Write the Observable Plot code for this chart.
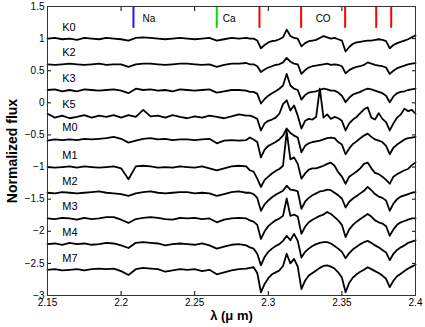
<!DOCTYPE html>
<html><head><meta charset="utf-8">
<script src="https://cdn.jsdelivr.net/npm/d3@7"></script>
<script src="https://cdn.jsdelivr.net/npm/@observablehq/plot@0.6"></script>
<style>body{margin:0;background:#fff}</style>
</head><body><div id="chart"></div>
<script>
// wavelength grid (µm)
const wavelength = [2.150,2.155,2.160,2.165,2.170,2.175,2.180,2.185,2.190,2.195,2.200,2.205,2.210,2.215,2.220,2.225,2.230,2.235,2.240,2.245,2.250,2.255,2.260,2.265,2.270,2.275,2.280,2.285,
 2.2875,2.290,2.2925,2.295,2.2975,2.300,2.3025,2.305,2.3075,2.310,2.3125,2.315,2.3175,2.320,2.3225,2.325,2.3275,2.330,2.3325,2.335,2.3375,2.340,2.3425,2.345,2.3475,2.350,2.3525,2.355,2.3575,2.360,2.3625,2.365,2.3675,2.370,2.3725,2.375,2.3775,2.380,2.3825,2.385,2.3875,2.390,2.3925,2.395,2.3975,2.400];

const stars = ["K0","K2","K3","K5","M0","M1","M2","M3","M4","M7"];
const offsets = [1, 0.6, 0.2, -0.2, -0.57, -1, -1.4, -1.8, -2.2, -2.6];

// flux relative to each star's offset
const fluxK0 = [0,.01,-.01,0,-.02,.01,0,-.01,.01,0,-.01,-.03,.01,.02,.01,0,-.01,0,.01,0,-.01,0,.01,-.03,-.01,.01,0,.01,
 0,0,-.03,-.15,-.10,-.06,-.04,-.03,-.01,.02,.14,.04,.01,0,-.12,-.07,-.04,-.03,-.02,.01,.04,.02,0,.01,-.01,-.03,-.20,-.13,-.08,-.06,-.05,-.04,-.03,-.03,-.02,-.01,-.02,-.04,-.15,-.10,-.07,-.05,-.03,-.01,.02,.05];
const fluxK2 = [0,-.01,0,.01,0,-.01,0,.01,-.01,0,0,-.04,0,.01,.01,0,-.01,0,.01,.01,0,-.01,0,-.04,-.01,.01,.01,.02,
 0,0,-.03,-.12,-.08,-.05,-.03,-.01,0,.03,.10,.04,.01,0,-.15,-.09,-.05,-.03,-.02,-.01,0,.01,-.01,0,-.01,-.03,-.14,-.09,-.06,-.04,-.03,-.01,.03,.01,-.01,-.02,-.03,-.05,-.15,-.10,-.06,-.04,-.02,0,.01,.02];
const fluxK3 = [0,.01,-.02,0,-.02,.01,0,-.01,0,.01,-.01,-.05,.02,0,.01,-.01,0,-.02,.01,0,-.01,0,.01,-.04,-.02,0,0,-.01,
 -.03,-.03,-.06,-.21,-.14,-.09,-.05,-.02,.02,.07,.25,.07,.02,0,-.15,-.08,-.04,-.03,-.02,0,.02,.01,-.01,-.01,-.04,-.09,-.19,-.12,-.07,-.05,-.03,0,.02,.01,-.01,-.03,-.05,-.09,-.19,-.10,-.05,-.03,-.02,0,.01,.02];
const fluxK5 = [.03,-.03,0,-.04,-.02,.01,-.03,0,-.02,.01,-.03,.01,-.02,.09,-.01,0,-.03,.01,-.02,-.04,-.01,-.03,0,-.02,-.04,-.01,.02,0,
 0,-.02,-.05,-.23,-.12,-.08,-.06,-.03,.03,.18,.24,.08,.16,0,-.20,-.08,-.05,-.06,-.02,.42,-.03,.02,-.05,-.02,-.04,-.08,-.23,-.12,-.06,-.02,.04,.10,.13,-.03,-.06,.04,-.05,-.10,-.23,-.12,-.03,.02,.11,.07,.09,.03];
const fluxM0 = [-.02,0,-.01,0,-.01,.01,0,.01,.02,.04,.01,-.05,-.02,.01,.02,0,.01,-.01,0,0,-.01,0,.01,-.06,-.02,-.01,-.02,-.01,
 .03,0,-.04,-.28,-.16,-.10,-.07,-.04,0,.06,.17,.10,.06,.03,-.20,-.10,-.06,-.04,-.03,-.02,0,.02,.03,.02,-.04,-.08,-.23,-.14,-.07,-.03,.02,.06,.09,.04,0,-.02,-.04,-.10,-.23,-.13,-.08,-.04,0,.02,.03,.04];
const fluxM1 = [0,-.01,0,.01,-.01,.01,0,-.01,0,.01,-.02,-.19,.01,.02,.01,-.01,0,-.01,.01,0,-.01,.01,-.02,-.05,-.02,.01,.02,.01,
 -.05,-.07,-.18,-.31,-.20,-.15,-.10,-.06,-.03,.02,.55,.12,.15,.05,-.18,-.10,-.04,-.02,-.02,0,.02,.05,.07,.02,-.08,-.15,-.26,-.15,-.11,-.07,-.02,.05,.07,-.02,-.09,-.11,-.15,-.20,-.26,-.15,-.11,-.08,-.05,-.03,.03,.07];
const fluxM2 = [0,-.01,.01,0,-.01,0,.01,.02,0,-.01,-.02,-.05,-.01,.01,.02,0,-.01,0,.01,.01,-.01,0,-.01,-.05,-.02,.01,.02,0,
 0,-.02,-.08,-.28,-.18,-.12,-.07,-.03,0,.03,.11,.05,.04,.02,-.25,-.14,-.08,-.04,-.01,.02,.03,.05,.04,0,-.04,-.09,-.23,-.14,-.09,-.05,-.01,.03,.09,.04,-.02,-.06,-.08,-.12,-.28,-.17,-.10,-.06,-.04,-.02,0,.01];
const fluxM3 = [0,-.01,.01,0,-.02,.01,-.01,0,.02,.02,-.02,-.07,-.01,.01,.02,.01,-.01,-.02,.01,0,.01,-.01,0,-.06,-.02,0,.01,0,
 -.03,-.05,-.10,-.32,-.20,-.12,-.07,-.03,0,.04,.31,.04,.06,.03,-.24,-.13,-.06,-.02,.01,.04,.06,.10,.07,.02,-.03,-.10,-.29,-.17,-.10,-.05,-.01,.03,.07,.03,-.03,-.06,-.08,-.12,-.27,-.17,-.10,-.06,-.04,-.02,0,0];
const fluxM4 = [0,.01,-.01,.02,0,.01,-.01,0,.02,.01,-.02,-.06,.02,.03,.02,.01,-.02,0,.01,0,-.01,.01,-.02,-.07,-.04,-.01,0,-.02,
 -.05,-.07,-.15,-.33,-.20,-.12,-.07,-.03,0,.05,.13,.06,.16,.05,-.21,-.12,-.07,-.03,0,.02,.03,.03,.01,-.03,-.07,-.12,-.22,-.14,-.08,-.04,0,.03,.05,.02,-.02,-.05,-.09,-.13,-.25,-.15,-.09,-.05,-.02,.02,.04,.06];
const fluxM7 = [0,.01,-.01,0,.01,-.01,.01,.02,.01,.02,-.02,-.08,.01,.03,.02,.01,-.03,-.01,.01,0,.01,-.02,0,-.07,-.04,-.01,.01,.02,
 .03,.04,-.05,-.35,-.22,-.13,-.07,-.04,-.01,.06,.25,.10,.17,.05,-.30,-.17,-.09,-.05,-.01,.03,.06,.07,.05,.02,-.04,-.12,-.35,-.20,-.12,-.07,-.03,0,.04,.01,-.02,-.05,-.09,-.14,-.27,-.17,-.10,-.06,-.02,.02,.05,.08];
const fluxes = [fluxK0, fluxK2, fluxK3, fluxK5, fluxM0, fluxM1, fluxM2, fluxM3, fluxM4, fluxM7];

// spectral feature markers
const lineX = [2.2084, 2.265, 2.294, 2.3223, 2.3522, 2.3733, 2.3835];
const lineColor = ["#1a1aff", "#00e000", "#ff0000", "#ff0000", "#ff0000", "#ff0000", "#ff0000"];
const featureNames = ["Na", "Ca", "CO"];

const xTicks = [2.15, 2.2, 2.25, 2.3, 2.35, 2.4];
const yTicks = [1.5, 1, 0.5, 0, -0.5, -1, -1.5, -2, -2.5, -3];

const fmt = d => String(d).replace("-", "\u2212");
const rows = stars.flatMap((s, i) => wavelength.map((w, j) => ({star: s, w, f: offsets[i] + fluxes[i][j]})));
const markers = lineX.map((x, i) => ({x, color: lineColor[i]}));

const chart = Plot.plot({
  width: 425, height: 327,
  marginLeft: 47, marginRight: 10, marginTop: 6, marginBottom: 32,
  style: {fontFamily: "'Liberation Sans', Arial, sans-serif", fontSize: "10px", background: "#fff", color: "#000"},
  x: {domain: [2.15, 2.4]},
  y: {domain: [-3, 1.5]},
  color: {type: "identity"},
  marks: [
    Plot.ruleX(markers, {x: "x", y1: 1.5, y2: 1.16, stroke: "color", strokeWidth: 2}),
    Plot.line(rows, {x: "w", y: "f", z: "star", stroke: "#000", strokeWidth: 1.8, strokeLinejoin: "round"}),
    Plot.text([featureNames[0]], {x: lineX[0], text: d => d, frameAnchor: "top", dy: 12, dx: 9, textAnchor: "start", lineAnchor: "middle", fontSize: 10}),
    Plot.text([featureNames[1]], {x: lineX[1], text: d => d, frameAnchor: "top", dy: 12, dx: 6, textAnchor: "start", lineAnchor: "middle", fontSize: 10}),
    Plot.text([featureNames[2]], {x: (lineX[3] + lineX[4]) / 2, text: d => d, frameAnchor: "top", dy: 12, textAnchor: "middle", lineAnchor: "middle", fontSize: 10}),
    Plot.text(stars, {x: 2.16, y: (d, i) => offsets[i] + 0.18, text: d => d, textAnchor: "start", fontSize: 11}),
    Plot.axisX(xTicks, {anchor: "bottom", tickSize: 0, tickPadding: 3, tickFormat: fmt, label: null}),
    Plot.axisY(yTicks, {anchor: "left", tickSize: 0, tickPadding: 3, tickFormat: fmt, label: null}),
    Plot.axisX(xTicks, {anchor: "bottom", tickSize: -4, tickFormat: () => "", label: null}),
    Plot.axisX(xTicks, {anchor: "top", tickSize: -4, tickFormat: () => "", label: null}),
    Plot.axisY(yTicks, {anchor: "left", tickSize: -4, tickFormat: () => "", label: null}),
    Plot.axisY(yTicks, {anchor: "right", tickSize: -4, tickFormat: () => "", label: null}),
    Plot.frame({stroke: "#333"}),
    Plot.text(["λ (μ m)"], {frameAnchor: "bottom", dy: 20, textAnchor: "middle", lineAnchor: "middle", fontWeight: "bold", fontSize: 13}),
    Plot.text(["Normalized flux"], {frameAnchor: "left", dx: -35, rotate: -90, textAnchor: "middle", lineAnchor: "middle", fontWeight: "bold", fontSize: 14})
  ]
});
document.getElementById("chart").appendChild(chart);
</script>
</body></html>
